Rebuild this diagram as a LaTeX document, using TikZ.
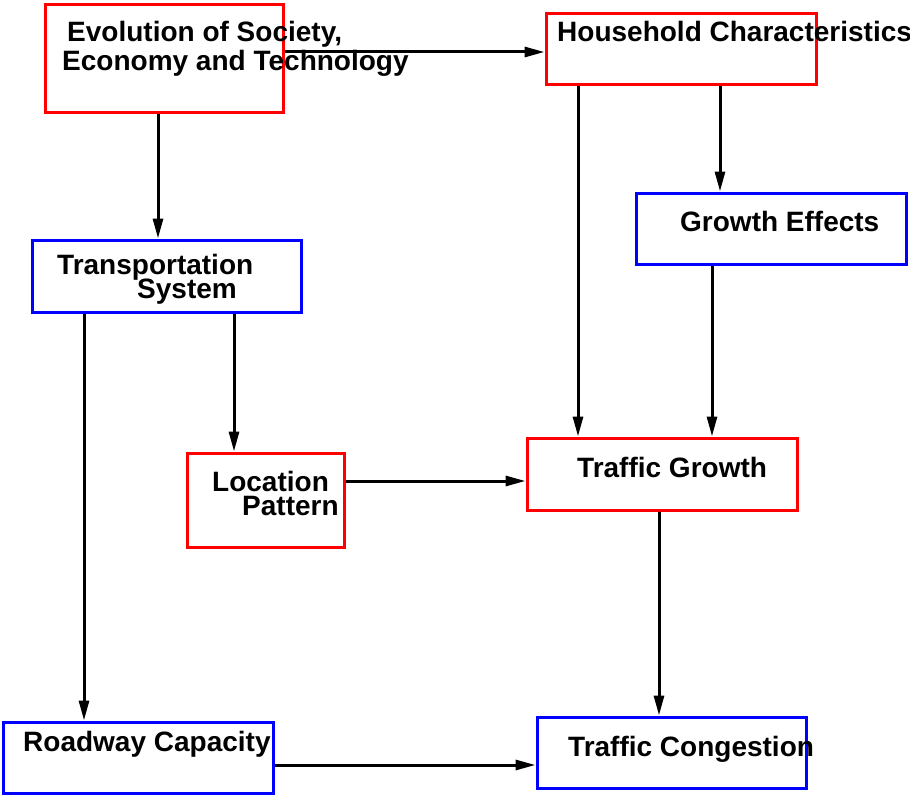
\documentclass[tikz,border=0pt]{standalone}
\usepackage{fontspec}
\setmainfont{Liberation Sans}
\usepackage{xcolor}
\usepackage{tikz}
\usetikzlibrary{arrows.meta}
\definecolor{boxred}{RGB}{255,0,0}
\definecolor{boxblue}{RGB}{0,0,255}

\begin{document}
\begin{tikzpicture}[x=1pt, y=-1pt,
    box/.style={draw, rectangle, line width=3pt, inner sep=0pt},
    redbox/.style={box, draw=boxred},
    bluebox/.style={box, draw=boxblue},
    lbl/.style={anchor=base west, inner sep=0pt, font=\fontsize{28}{28}\selectfont\bfseries},
    arr/.style={-{Triangle[length=20pt, width=10pt]}, line width=3pt}]
    \useasboundingbox (0,0) rectangle (910,797);

    % boxes
    \node[redbox, minimum width=238pt, minimum height=108pt] (evol) at (164,59) {};
    \node[redbox, minimum width=270pt, minimum height=71pt] (house) at (681,49.5) {};
    \node[bluebox, minimum width=270pt, minimum height=71pt] (growth) at (771,228.5) {};
    \node[bluebox, minimum width=269pt, minimum height=72pt] (trans) at (166.5,276) {};
    \node[redbox, minimum width=157pt, minimum height=94pt] (loc) at (265.5,500) {};
    \node[redbox, minimum width=270pt, minimum height=72pt] (tgrowth) at (662,474) {};
    \node[bluebox, minimum width=270pt, minimum height=71pt] (road) at (138,757.5) {};
    \node[bluebox, minimum width=269pt, minimum height=71pt] (cong) at (671.5,752.5) {};

    % labels
    \node[lbl] (evoltxta) at (67,42) {Evolution of Society,};
    \node[lbl] (evoltxtb) at (62,71) {Economy and Technology};
    \node[lbl] (housetxt) at (557,42) {Household Characteristics};
    \node[lbl] (growthtxt) at (680,231) {Growth Effects};
    \node[lbl] (transtxta) at (57,274) {Transportation};
    \node[lbl] (transtxtb) at (137,298) {System};
    \node[lbl] (loctxta) at (212,491) {Location};
    \node[lbl] (loctxtb) at (242,515) {Pattern};
    \node[lbl] (tgrowthtxt) at (577,477) {Traffic Growth};
    \node[lbl] (roadtxt) at (23,751) {Roadway Capacity};
    \node[lbl] (congtxt) at (568,756) {Traffic Congestion};

    % arrows
    \draw[arr] ([yshift=7pt]evol.east) -- ([yshift=-2.5pt]house.west);
    \draw[arr] ([xshift=-6pt]evol.south) -- ([xshift=-8.5pt]trans.north);
    \draw[arr] ([xshift=-103pt]house.south) -- ([xshift=-84pt]tgrowth.north);
    \draw[arr] ([xshift=39pt]house.south) -- ([xshift=-51pt]growth.north);
    \draw[arr] ([xshift=-59pt]growth.south) -- ([xshift=50pt]tgrowth.north);
    \draw[arr] ([xshift=67.5pt]trans.south) -- ([xshift=-31.5pt]loc.north);
    \draw[arr] ([xshift=-82.5pt]trans.south) -- ([xshift=-54pt]road.north);
    \draw[arr] ([yshift=19pt]loc.east) -- ([yshift=-7pt]tgrowth.west);
    \draw[arr] ([xshift=-3pt]tgrowth.south) -- ([xshift=-12.5pt]cong.north);
    \draw[arr] ([yshift=-7.5pt]road.east) -- ([yshift=-12.5pt]cong.west);
\end{tikzpicture}
\end{document}
